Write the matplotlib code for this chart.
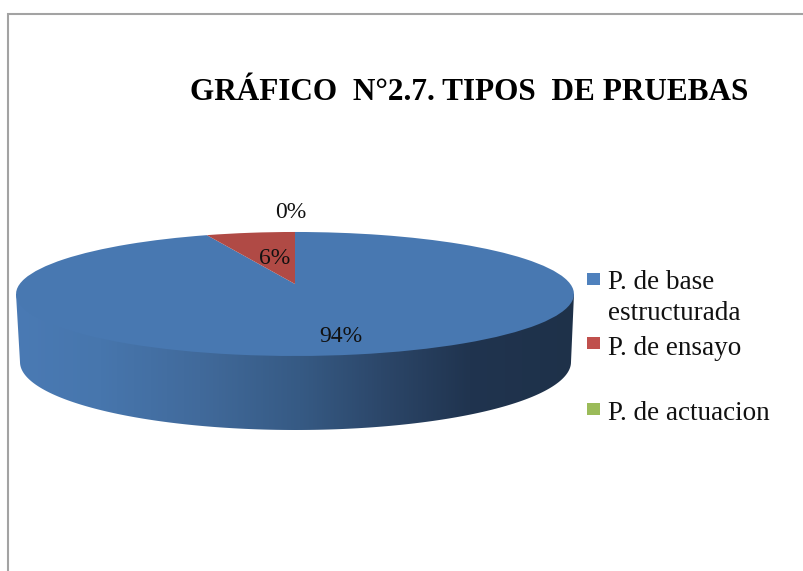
import numpy as np
import matplotlib
matplotlib.use("Agg")
import matplotlib.pyplot as plt
from matplotlib.colors import LinearSegmentedColormap
from matplotlib.patches import Polygon, Rectangle
from matplotlib.transforms import Transform

# ---- data ----
title = "GRÁFICO  N°2.7. TIPOS  DE PRUEBAS"
categories = ["P. de base\nestructurada", "P. de ensayo", "P. de actuacion"]
values = [94, 6, 0]

# ---- style ----
top_colors = ["#4878b1", "#b04a45", "#9bbb59"]
legend_colors = ["#4f81bd", "#c0504d", "#9bbb59"]
label_pos = [(341, 336), (275, 259), (291, 213)]
legend_y = [279, 343, 409]
legend_baseline = [289, 355, 420]
line_step = 31
wall_stops = [(16, "#4a7ab4"), (100, "#4776ad"), (200, "#416a9b"), (300, "#365a84"),
              (390, "#2b4567"), (470, "#20344f"), (575, "#1e3149")]

plt.rcParams["font.family"] = ["Liberation Serif", "DejaVu Serif"]
W, H = 804, 571
fig = plt.figure(figsize=(W / 100, H / 100), dpi=100)
ax = fig.add_axes([0, 0, 1, 1])


class Persp(Transform):
    """Projects the unit pie onto the tilted pixel-space ellipse."""
    input_dims = output_dims = 2
    has_inverse = False
    cx, cy, a, b, c = 295.0, 284.0, 60.4, 0.161, 275.3

    def transform_non_affine(self, values):
        v = np.asarray(values, dtype=float)
        w = 1 + self.b * v[:, 1]
        return np.column_stack((self.cx + self.c * v[:, 0] / w, self.cy - self.a * v[:, 1] / w))


# side wall: gradient clipped to the rim shape
t = np.linspace(np.pi, 2 * np.pi, 200)
bottom = np.column_stack((295.5 + 275.5 * np.cos(t), 362 - 68 * np.sin(t)))
wall_pts = np.vstack(([(16, 294)], bottom, [(574, 294)]))
wall = Polygon(wall_pts, closed=True, transform=ax.transData, fc="none", ec="none")
ax.add_patch(wall)
x0, x1 = wall_stops[0][0], wall_stops[-1][0]
cmap = LinearSegmentedColormap.from_list(
    "wall", [((x - x0) / (x1 - x0), c) for x, c in wall_stops])
im = ax.imshow(np.linspace(0, 1, 512)[None, :], cmap=cmap, extent=(x0, x1, 440, 280),
               aspect="auto", zorder=1, interpolation="bilinear")
im.set_clip_path(wall)

# top face
wedges, _ = ax.pie(values, colors=top_colors, startangle=90, counterclock=False,
                   wedgeprops={"linewidth": 0})
proj = Persp() + ax.transData
for w in wedges:
    w.set_transform(proj)
    w.set_zorder(2)
    w.set_clip_on(False)

# data labels
for v, (px, py) in zip(values, label_pos):
    ax.text(px, py, f"{v}%", ha="center", va="center", fontsize=17, color="#111111", zorder=4)

# legend
for name, col, ys, yb in zip(categories, legend_colors, legend_y, legend_baseline):
    ax.add_patch(Rectangle((587, ys - 6), 13, 12, fc=col, ec="none", zorder=3))
    for i, line in enumerate(name.split("\n")):
        ax.text(608, yb + i * line_step, line, ha="left", va="baseline", fontsize=19.5,
                color="#111111", zorder=4)

# title
ax.text(469.5, 100, title, ha="center", va="baseline", fontsize=22.5, fontweight="bold",
        color="black")

# chart frame (top and left only are visible)
ax.plot([8, 8, W], [H, 14, 14], color="#a3a3a3", lw=1.5, solid_joinstyle="miter", zorder=5)

ax.set_aspect("auto")
ax.set_xlim(0, W)
ax.set_ylim(H, 0)
ax.axis("off")
fig.savefig("out.png", dpi=100, facecolor="white")
